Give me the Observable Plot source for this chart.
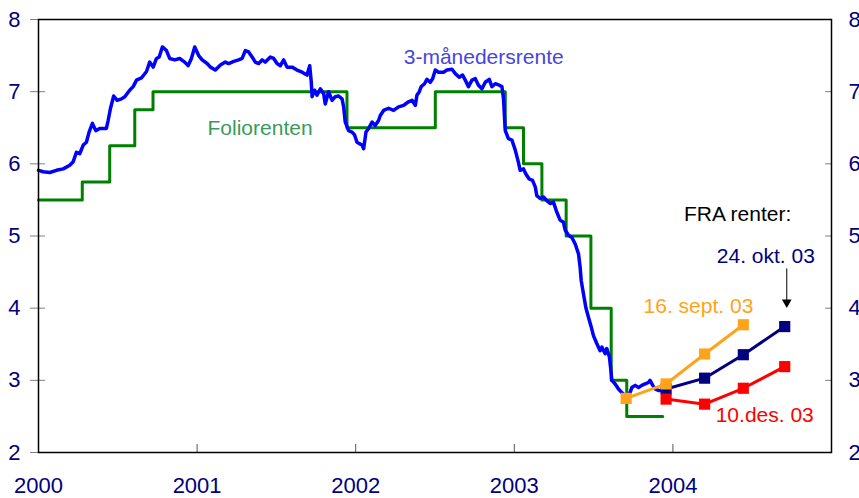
<!DOCTYPE html>
<html><head><meta charset="utf-8">
<script src="https://cdn.jsdelivr.net/npm/d3@7"></script>
<script src="https://cdn.jsdelivr.net/npm/@observablehq/plot@0.6"></script>
<style>body{margin:0;background:#fff;} #chart svg{display:block;}</style>
</head><body><div id="chart"></div>
<script>
// tick values
const yearTicks = [2000, 2001, 2002, 2003, 2004];
const innerYearTicks = [2001, 2002, 2003, 2004];
const rateTicks = [2, 3, 4, 5, 6, 7, 8];

// 3-månedersrente (decimal year, percent)
const niborT = [2000.000,2000.030,2000.071,2000.113,2000.156,2000.197,2000.219,2000.239,2000.260,2000.282,2000.302,2000.319,2000.340,2000.361,2000.386,2000.428,2000.439,2000.454,2000.474,2000.496,2000.523,2000.544,2000.575,2000.597,2000.618,2000.649,2000.681,2000.701,2000.723,2000.744,2000.761,2000.781,2000.807,2000.827,2000.859,2000.890,2000.922,2000.943,2000.964,2000.985,2001.010,2001.032,2001.063,2001.084,2001.115,2001.147,2001.178,2001.199,2001.231,2001.262,2001.284,2001.304,2001.325,2001.347,2001.367,2001.388,2001.410,2001.430,2001.462,2001.483,2001.504,2001.525,2001.546,2001.567,2001.599,2001.630,2001.662,2001.693,2001.710,2001.720,2001.725,2001.741,2001.756,2001.777,2001.798,2001.808,2001.829,2001.851,2001.871,2001.892,2001.914,2001.924,2001.934,2001.955,2001.977,2001.993,2002.008,2002.023,2002.040,2002.050,2002.065,2002.081,2002.103,2002.123,2002.144,2002.155,2002.176,2002.207,2002.239,2002.270,2002.302,2002.333,2002.355,2002.376,2002.386,2002.401,2002.413,2002.434,2002.449,2002.470,2002.485,2002.502,2002.522,2002.554,2002.575,2002.607,2002.628,2002.653,2002.674,2002.691,2002.711,2002.733,2002.754,2002.774,2002.796,2002.817,2002.842,2002.859,2002.880,2002.905,2002.922,2002.932,2002.943,2002.963,2002.985,2003.006,2003.026,2003.037,2003.058,2003.073,2003.094,2003.115,2003.132,2003.142,2003.163,2003.184,2003.205,2003.226,2003.247,2003.268,2003.289,2003.310,2003.321,2003.342,2003.363,2003.384,2003.405,2003.415,2003.422,2003.436,2003.451,2003.468,2003.485,2003.499,2003.520,2003.541,2003.552,2003.573,2003.583,2003.600,2003.609,2003.615,2003.636,2003.657,2003.678,2003.698,2003.720,2003.741,2003.762,2003.783,2003.804,2003.825,2003.846,2003.856,2003.873,2003.888,2003.908,2003.930];
const niborV = [5.91,5.89,5.88,5.91,5.93,5.98,6.03,6.16,6.14,6.26,6.30,6.44,6.56,6.46,6.49,6.49,6.60,6.77,6.94,6.88,6.90,6.93,7.02,7.07,7.16,7.19,7.28,7.41,7.34,7.46,7.48,7.62,7.57,7.46,7.44,7.46,7.41,7.36,7.46,7.62,7.50,7.44,7.39,7.34,7.30,7.37,7.41,7.39,7.42,7.44,7.46,7.57,7.55,7.48,7.41,7.39,7.44,7.41,7.48,7.46,7.39,7.36,7.44,7.34,7.34,7.30,7.27,7.23,7.36,7.13,6.93,7.02,6.95,7.04,6.97,6.83,7.00,6.88,6.93,6.94,6.90,6.79,6.58,6.46,6.44,6.40,6.30,6.28,6.26,6.21,6.44,6.49,6.58,6.53,6.60,6.67,6.74,6.77,6.74,6.79,6.81,6.86,6.88,6.81,6.95,7.00,7.07,7.11,7.17,7.13,7.18,7.30,7.27,7.27,7.30,7.31,7.25,7.20,7.23,7.16,7.07,7.16,7.18,7.09,7.04,7.13,7.17,7.07,7.11,7.09,7.07,6.90,6.46,6.35,6.33,6.19,6.02,5.91,5.93,5.86,5.79,5.77,5.68,5.56,5.52,5.54,5.49,5.45,5.47,5.33,5.22,5.19,5.08,5.01,4.98,4.89,4.75,4.57,4.38,4.20,4.01,3.87,3.74,3.62,3.51,3.41,3.46,3.37,3.44,3.32,3.14,3.00,2.95,2.88,2.83,2.79,2.77,2.90,2.93,2.90,2.93,2.95,2.97,3.00,2.93,2.88,2.86,2.86];

// Foliorenten (step changes; last entry marks the end of the line)
const folioT = [2000.000, 2000.276, 2000.449, 2000.607, 2000.722, 2001.945, 2002.502, 2002.943, 2003.058, 2003.174, 2003.327, 2003.483, 2003.611, 2003.709, 2003.936];
const folioV = [5.5, 5.75, 6.25, 6.75, 7.0, 6.5, 7.0, 6.5, 6.0, 5.5, 5.0, 4.0, 3.0, 2.5, 2.5];

// FRA renter
const sepT = [2003.705, 2003.957, 2004.200, 2004.444];
const sepV = [2.75, 2.95, 3.365, 3.77];
const oktT = [2003.957, 2004.200, 2004.444, 2004.705];
const oktV = [2.88, 3.03, 3.355, 3.745];
const desT = [2003.957, 2004.200, 2004.444, 2004.705];
const desV = [2.74, 2.67, 2.89, 3.19];

const zip = (T, V) => T.map((t, i) => ({t, v: V[i]}));
const nibor = zip(niborT, niborV);
const folio = zip(folioT, folioV);
const sep = zip(sepT, sepV);
const okt = zip(oktT, oktV);
const des = zip(desT, desV);

const ORANGE = "#ffa31a", NAVY = "#000080", RED = "#ff0000";
const AXIS = "#000080";
const FONT = "'Liberation Sans', Arial, Helvetica, sans-serif";
const plain = d => String(d);
const none = () => "";

const chart = Plot.plot({
  width: 859,
  height: 498,
  marginLeft: 38,
  marginRight: 28,
  marginTop: 19,
  marginBottom: 46,
  style: {fontFamily: FONT, fontSize: "22px", background: "#fff", overflow: "visible"},
  x: {domain: [2000, 2005]},
  y: {domain: [2, 8]},
  marks: [
    // left axis: labels, outward and inward ticks
    Plot.axisY(rateTicks, {anchor: "left", tickSize: 0, tickPadding: 18, fill: AXIS, fontSize: 22, tickFormat: plain, label: null}),
    Plot.axisY(rateTicks, {anchor: "left", tickSize: 8, stroke: "#808080", tickFormat: none, label: null}),
    Plot.axisY(rateTicks, {anchor: "left", tickSize: -7, stroke: "#808080", tickFormat: none, label: null}),
    // right axis
    Plot.axisY(rateTicks, {anchor: "right", tickSize: 0, tickPadding: 17, fill: AXIS, fontSize: 22, tickFormat: plain, label: null}),
    Plot.axisY(rateTicks, {anchor: "right", tickSize: -7, stroke: "#808080", tickFormat: none, label: null}),
    // bottom axis
    Plot.axisX(yearTicks, {anchor: "bottom", tickSize: 0, tickPadding: 25, fill: AXIS, fontSize: 22, tickFormat: plain, label: null}),
    Plot.axisX(innerYearTicks, {anchor: "bottom", tickSize: -8, stroke: "#555", tickFormat: none, label: null}),

    Plot.line(folio, {x: "t", y: "v", curve: "step-after", stroke: "#008000", strokeWidth: 3}),
    Plot.line(nibor, {x: "t", y: "v", stroke: "#0000ff", strokeWidth: 3.5, strokeLinejoin: "round"}),

    Plot.line(okt, {x: "t", y: "v", stroke: NAVY, strokeWidth: 3}),
    Plot.dot(okt, {x: "t", y: "v", symbol: "square", r: 6.3, fill: NAVY, stroke: "none"}),
    Plot.line(des, {x: "t", y: "v", stroke: RED, strokeWidth: 3}),
    Plot.dot(des, {x: "t", y: "v", symbol: "square", r: 6.3, fill: RED, stroke: "none"}),
    Plot.line(sep, {x: "t", y: "v", stroke: ORANGE, strokeWidth: 3}),
    Plot.dot(sep, {x: "t", y: "v", symbol: "square", r: 6.3, fill: ORANGE, stroke: "none"}),

    Plot.frame({stroke: "#000", strokeWidth: 1.5}),

    // annotations
    Plot.text(["3-månedersrente"], {x: 2002.807, y: 7.39, text: d => d, fill: "#4646dc", fontSize: 21, textAnchor: "middle", lineAnchor: "bottom"}),
    Plot.text(["Foliorenten"], {x: 2001.397, y: 6.405, text: d => d, fill: "#3a9a5c", fontSize: 21, textAnchor: "middle", lineAnchor: "bottom"}),
    Plot.text(["FRA renter:"], {x: 2004.408, y: 5.207, text: d => d, fill: "#000", fontSize: 21, textAnchor: "middle", lineAnchor: "bottom"}),
    Plot.text(["24. okt. 03"], {x: 2004.586, y: 4.624, text: d => d, fill: NAVY, fontSize: 21, textAnchor: "middle", lineAnchor: "bottom"}),
    Plot.text(["16. sept. 03"], {x: 2004.161, y: 3.931, text: d => d, fill: ORANGE, fontSize: 21, textAnchor: "middle", lineAnchor: "bottom"}),
    Plot.text(["10.des. 03"], {x: 2004.579, y: 2.419, text: d => d, fill: RED, fontSize: 21, textAnchor: "middle", lineAnchor: "bottom"}),
    Plot.link([0], {x1: 2004.718, x2: 2004.718, y1: 4.551, y2: 4.10, stroke: "#000", strokeWidth: 1}),
    Plot.dot([0], {x: 2004.718, y: 4.08, symbol: "triangle", rotate: 180, r: 3.6, fill: "#000", stroke: "none"})
  ]
});
document.getElementById("chart").appendChild(chart);
</script>
</body></html>
